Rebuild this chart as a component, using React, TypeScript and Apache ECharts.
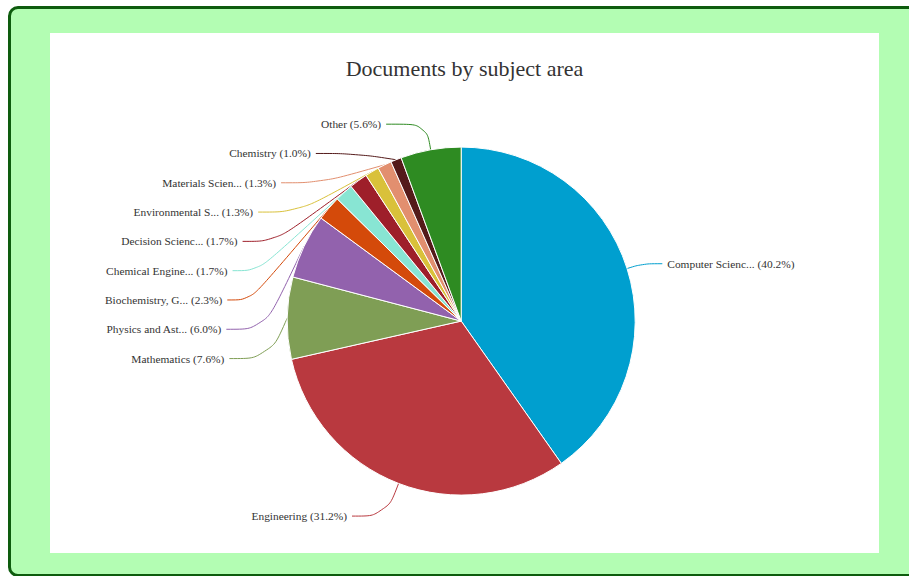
import React, { useEffect, useRef } from "react";
import * as echarts from "echarts";

const titleText = "Documents by subject area";
const categories = [
  "Computer Science",
  "Engineering",
  "Mathematics",
  "Physics and Astronomy",
  "Biochemistry, Genetics and Molecular Biology",
  "Chemical Engineering",
  "Decision Sciences",
  "Environmental Science",
  "Materials Science",
  "Chemistry",
  "Other",
];
const percents = [40.2, 31.2, 7.6, 6.0, 2.3, 1.7, 1.7, 1.3, 1.3, 1.0, 5.6];
const colors = [
  "#009fcf",
  "#b9393f",
  "#7f9e55",
  "#9262ad",
  "#d44a0a",
  "#88e5d3",
  "#9e1f2a",
  "#d9c13a",
  "#e28f6f",
  "#541a1a",
  "#2e8b22",
];
// connector lengths: [first segment, second segment] per slice
const lineLengths = [
  [16, 20],
  [35, 34],
  [26, 40],
  [26, 40],
  [26, 40],
  [26, 40],
  [26, 40],
  [26, 40],
  [26, 40],
  [26, 40],
  [26, 40],
];

const truncate = (s: string) => (s.length > 15 ? s.slice(0, 15) + "..." : s);

export default function App() {
  const ref = useRef<HTMLDivElement>(null);
  useEffect(() => {
    if (!ref.current) return;
    const chart = echarts.init(ref.current, null, { renderer: "svg" });
    chart.setOption({
      animation: false,
      backgroundColor: "#ffffff",
      title: {
        text: titleText,
        left: "center",
        top: 19,
        textStyle: {
          fontFamily: "Liberation Serif",
          fontSize: 22,
          fontWeight: "normal",
          color: "#333333",
        },
      },
      series: [
        {
          type: "pie",
          center: ["49.6%", "55.4%"],
          radius: 174,
          startAngle: 90,
          clockwise: true,
          data: categories.map((c, i) => ({
            name: c,
            value: percents[i],
            itemStyle: { color: colors[i] },
            labelLine: { length: lineLengths[i][0], length2: lineLengths[i][1] },
          })),
          itemStyle: { borderColor: "#ffffff", borderWidth: 1 },
          label: {
            show: true,
            position: "outside",
            fontFamily: "Liberation Serif",
            fontSize: 11.4,
            lineHeight: 27.3,
            color: "#333333",
            formatter: (p: any) => `${truncate(p.name)} (${p.value.toFixed(1)}%)`,
          },
          labelLine: {
            show: true,
            smooth: 0.4,
            lineStyle: { width: 1 },
          },
          emphasis: { disabled: true },
        },
      ],
    });
    return () => chart.dispose();
  }, []);
  return (
    <div
      style={{
        position: "fixed",
        left: 0,
        top: 0,
        width: 909,
        height: 576,
        overflow: "hidden",
        background: "#ffffff",
      }}
    >
      <div
        style={{
          position: "absolute",
          left: 8,
          top: 6,
          width: 980,
          height: 571,
          boxSizing: "border-box",
          border: "3px solid #0e5c0e",
          borderRadius: 10,
          background: "#b3fdb3",
        }}
      />
      <div
        ref={ref}
        style={{ position: "absolute", left: 50, top: 33, width: 829, height: 520 }}
      />
    </div>
  );
}
